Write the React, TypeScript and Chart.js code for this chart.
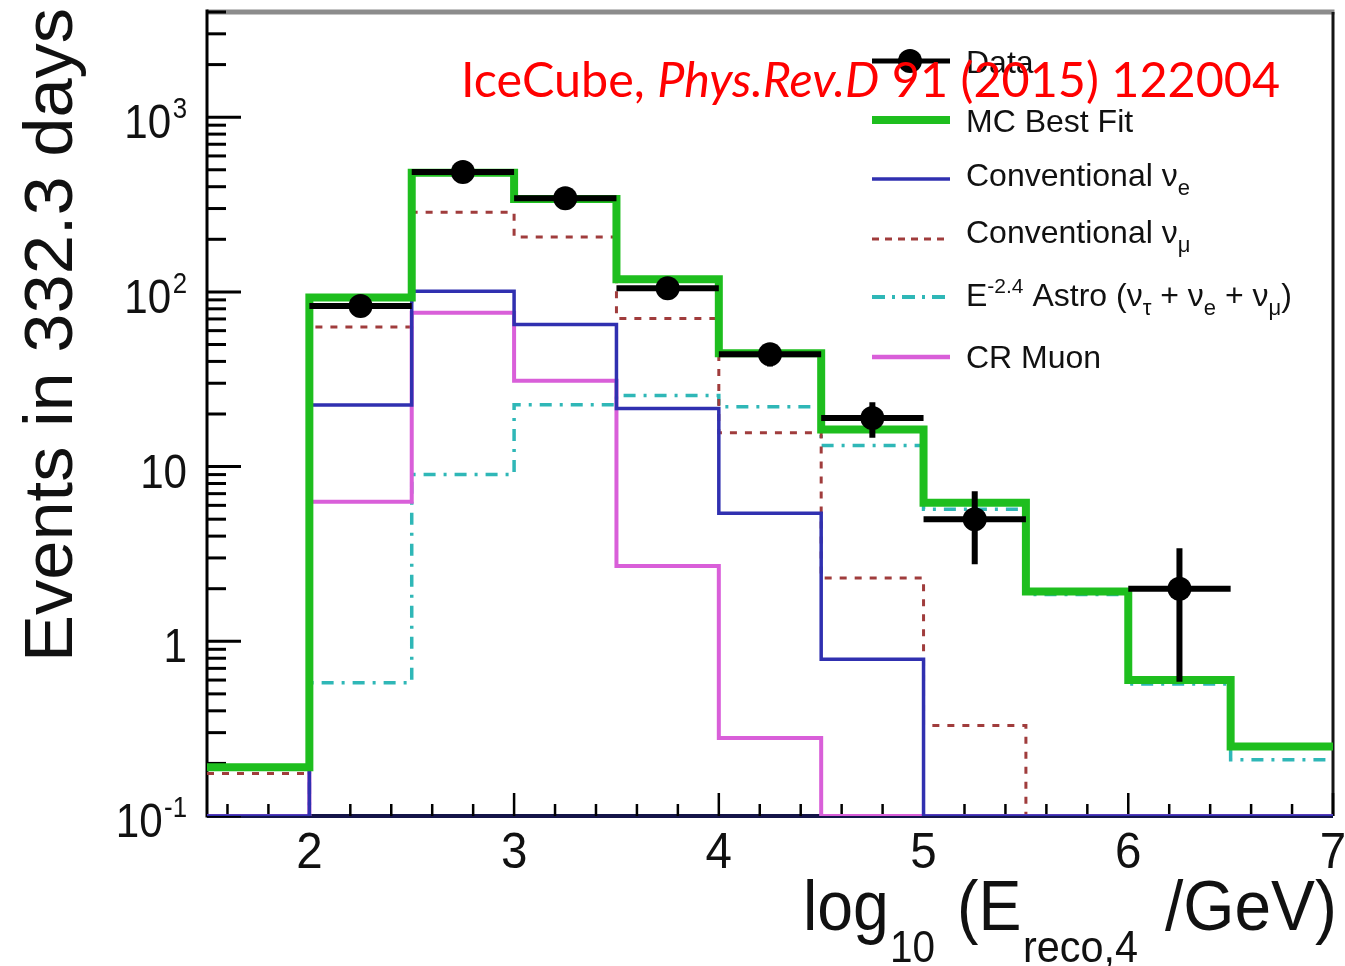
import React, { useEffect, useRef } from "react";
import { Chart, registerables } from "chart.js";

Chart.register(...registerables);

// Binning in log10(E_reco / GeV): 0.5-wide bins from 1.5 to 7
const binLowEdges = [1.5, 2, 2.5, 3, 3.5, 4, 4.5, 5, 5.5, 6, 6.5];
const binHighEdge = 7;
const BIN_WIDTH = 0.5;

// Observed events per bin (0 = empty bin, no marker)
const dataCounts = [0, 83, 485, 344, 105, 44, 19, 5, 0, 2, 0];

// Expected events per bin
const mcBestFit = [0.19, 93, 480, 340, 118, 44.5, 16.3, 6.2, 1.93, 0.6, 0.25];
const conventionalNuE = [0, 22.5, 101, 65, 21.5, 5.4, 0.79, 0, 0, 0, 0];
const conventionalNuMu = [0.175, 63, 286, 206, 70.5, 15.6, 2.3, 0.33, 0, 0, 0];
const astroE24 = [0, 0.58, 9.0, 22.6, 25.5, 22, 13.2, 5.7, 1.85, 0.57, 0.21];
const crMuon = [0, 6.3, 76, 31, 2.7, 0.28, 0, 0, 0, 0, 0];

// Axis ranges and tick labels
const X_MIN = 1.5;
const X_MAX = 7;
const Y_MIN = 0.1;
const Y_MAX = 4000;
const xTickValues = [2, 3, 4, 5, 6, 7];
const xTickLabels = ["2", "3", "4", "5", "6", "7"];
const yTickValues = [0.1, 1, 10, 100, 1000];
const yTickMantissas = ["10", "1", "10", "10", "10"];
const yTickExponents = ["-1", "", "", "2", "3"];

const yAxisTitle = "Events in 332.3 days";
const citation = ["IceCube, ", "Phys.Rev.D", " 91 (2015) 122004"];

type Run = { text: string; size: number; dy?: number; italic?: boolean };

// Legend rows: rich text with sub/superscripts
const legendRows: Run[][] = [
  [{ text: "Data", size: 32 }],
  [{ text: "MC Best Fit", size: 32 }],
  [{ text: "Conventional ν", size: 32 }, { text: "e", size: 22, dy: 9 }],
  [{ text: "Conventional ν", size: 32 }, { text: "μ", size: 22, dy: 9 }],
  [
    { text: "E", size: 32 },
    { text: "-2.4", size: 21, dy: -13 },
    { text: " Astro (ν", size: 32 },
    { text: "τ", size: 22, dy: 9 },
    { text: " + ν", size: 32 },
    { text: "e", size: 22, dy: 9 },
    { text: " + ν", size: 32 },
    { text: "μ", size: 22, dy: 9 },
    { text: ")", size: 32 },
  ],
  [{ text: "CR Muon", size: 32 }],
];

const FONT = '"Liberation Sans", Arial, Helvetica, sans-serif';
const TITLE_FONT = 'Lato, "Open Sans", sans-serif';

const COLORS = {
  data: "#000000",
  mc: "#1ebe1e",
  nuE: "#3030b0",
  nuMu: "#a03c3c",
  astro: "#2fb7b7",
  muon: "#d95fd9",
};

// Histogram outline: one point per low edge, plus the closing high edge.
// Empty bins sit on the axis floor, as a log-scale histogram is drawn.
const histogram = (values: number[]) => [
  ...binLowEdges.map((x, i) => ({ x, y: Math.max(values[i], Y_MIN) })),
  { x: binHighEdge, y: Math.max(values[values.length - 1], Y_MIN) },
];

const dataMarkers = binLowEdges.map((lo, i) => ({
  x: lo + BIN_WIDTH / 2,
  y: dataCounts[i] > 0 ? dataCounts[i] : null,
}));

// Bin-width horizontal bars and sqrt(N) vertical bars, separated by gaps
const dataErrorBars = dataCounts.flatMap((n, i) => {
  if (n <= 0) return [];
  const lo = binLowEdges[i];
  const c = lo + BIN_WIDTH / 2;
  const e = Math.sqrt(n);
  return [
    { x: lo, y: n },
    { x: lo + BIN_WIDTH, y: n },
    { x: c, y: null },
    { x: c, y: Math.max(n - e, Y_MIN) },
    { x: c, y: n + e },
    { x: c, y: null },
  ];
});

const stepStyle = (color: string, width: number, dash: number[], order: number) => ({
  borderColor: color,
  borderWidth: width,
  borderDash: dash,
  stepped: true,
  pointRadius: 0,
  fill: false,
  order,
});

function drawRuns(
  ctx: CanvasRenderingContext2D,
  runs: Run[],
  x: number,
  y: number,
  family: string,
  sx: number,
  color: string
) {
  ctx.save();
  ctx.translate(x, y);
  ctx.scale(sx, 1);
  ctx.fillStyle = color;
  ctx.textAlign = "left";
  ctx.textBaseline = "alphabetic";
  let cx = 0;
  for (const r of runs) {
    ctx.font = `${r.italic ? "italic " : ""}${r.size}px ${family}`;
    ctx.fillText(r.text, cx, r.dy || 0);
    cx += ctx.measureText(r.text).width;
  }
  ctx.restore();
  return cx * sx;
}

function runsWidth(ctx: CanvasRenderingContext2D, runs: Run[], family: string) {
  let w = 0;
  for (const r of runs) {
    ctx.font = `${r.italic ? "italic " : ""}${r.size}px ${family}`;
    w += ctx.measureText(r.text).width;
  }
  return w;
}

const axesPlugin = {
  id: "frameAndTicks",
  beforeDatasetsDraw(chart: any) {
    const { ctx, chartArea: a } = chart;
    const xs = chart.scales.x;
    const ys = chart.scales.y;
    const seg = (x1: number, y1: number, x2: number, y2: number) => {
      ctx.beginPath();
      ctx.moveTo(x1, y1);
      ctx.lineTo(x2, y2);
      ctx.stroke();
    };
    ctx.save();
    ctx.lineCap = "butt";
    ctx.strokeStyle = "#8c8c8c";
    ctx.lineWidth = 5;
    seg(a.left, a.top, a.right + 1.5, a.top);
    ctx.strokeStyle = "#151515";
    ctx.lineWidth = 3;
    seg(a.right, a.top, a.right, a.bottom);
    ctx.strokeStyle = "#000";
    seg(a.left, a.top - 2.5, a.left, a.bottom + 1.5);
    ctx.strokeStyle = "#141448";
    ctx.lineWidth = 4;
    seg(a.left, a.bottom, a.right, a.bottom);

    // x ticks: majors every 1, minors every 0.2, pointing inward
    ctx.strokeStyle = "#000";
    ctx.lineWidth = 2.5;
    for (let k = 16; k <= 70; k += 2) {
      const px = xs.getPixelForValue(k / 10);
      const len = k % 10 === 0 ? 23 : 12;
      seg(px, a.bottom, px, a.bottom - len);
    }
    // y ticks: decades long, 2..9 short
    ctx.lineWidth = 3;
    for (let d = -1; d <= 3; d++) {
      for (let m = 1; m <= 9; m++) {
        const v = m * Math.pow(10, d);
        if (v > ys.max) break;
        const py = ys.getPixelForValue(v);
        seg(a.left, py, a.left + (m === 1 ? 34 : 19), py);
      }
    }
    ctx.restore();
  },
};

const textPlugin = {
  id: "labelsLegendTitle",
  afterDraw(chart: any) {
    const { ctx, chartArea: a } = chart;
    const xs = chart.scales.x;
    const ys = chart.scales.y;
    const ink = "#111";

    // y tick labels (mantissa with optional superscript exponent)
    yTickValues.forEach((v, i) => {
      const py = ys.getPixelForValue(v);
      const runs: Run[] = [{ text: yTickMantissas[i], size: 49 }];
      if (yTickExponents[i]) {
        runs.push({ text: " ", size: 6 });
        runs.push({ text: yTickExponents[i], size: 30, dy: -20 });
      }
      const w = runsWidth(ctx, runs, FONT) * 0.86;
      drawRuns(ctx, runs, a.left - 20 - w, py + 21, FONT, 0.86, ink);
    });

    // x tick labels
    xTickValues.forEach((v, i) => {
      const px = xs.getPixelForValue(v);
      ctx.save();
      ctx.font = `50px ${FONT}`;
      const w = ctx.measureText(xTickLabels[i]).width * 0.95;
      ctx.restore();
      drawRuns(ctx, [{ text: xTickLabels[i], size: 50 }], px - w / 2, a.bottom + 52, FONT, 0.95, ink);
    });

    // y axis title, rotated
    ctx.save();
    ctx.font = `68px ${FONT}`;
    const tw = ctx.measureText(yAxisTitle).width;
    ctx.translate(72, 662);
    ctx.rotate(-Math.PI / 2);
    ctx.scale(654 / tw, 1);
    ctx.fillStyle = ink;
    ctx.textAlign = "left";
    ctx.textBaseline = "alphabetic";
    ctx.fillText(yAxisTitle, 0, 0);
    ctx.restore();

    // x axis title: log10 (E_reco,4 /GeV)
    drawRuns(ctx, [{ text: "log", size: 70 }], 803, 930, FONT, 0.92, ink);
    drawRuns(ctx, [{ text: "10", size: 44 }], 890, 962, FONT, 0.92, ink);
    drawRuns(ctx, [{ text: "(E", size: 70 }], 957, 930, FONT, 0.92, ink);
    drawRuns(ctx, [{ text: "reco,4", size: 44 }], 1023, 962, FONT, 0.94, ink);
    drawRuns(ctx, [{ text: "/GeV)", size: 70 }], 1165, 930, FONT, 0.94, ink);

    // legend
    const lineY = [61, 120, 179, 239, 297, 357];
    const textY = [73, 132, 186, 243, 306, 368];
    const styles = [
      { color: COLORS.data, width: 5, dash: [] as number[] },
      { color: COLORS.mc, width: 8, dash: [] },
      { color: COLORS.nuE, width: 3.5, dash: [] },
      { color: COLORS.nuMu, width: 3, dash: [7, 6] },
      { color: COLORS.astro, width: 4, dash: [13, 7, 3, 7] },
      { color: COLORS.muon, width: 4.5, dash: [] },
    ];
    legendRows.forEach((runs, i) => {
      const s = styles[i];
      ctx.save();
      ctx.strokeStyle = s.color;
      ctx.lineWidth = s.width;
      ctx.setLineDash(s.dash);
      ctx.beginPath();
      ctx.moveTo(872, lineY[i]);
      ctx.lineTo(950, lineY[i]);
      ctx.stroke();
      if (i === 0) {
        ctx.fillStyle = COLORS.data;
        ctx.beginPath();
        ctx.arc(910, lineY[i], 12, 0, Math.PI * 2);
        ctx.fill();
      }
      ctx.restore();
      drawRuns(ctx, runs, 966, textY[i], FONT, 1, ink);
    });

    // citation in red
    const cRuns: Run[] = [
      { text: citation[0], size: 48 },
      { text: citation[1], size: 48, italic: true },
      { text: citation[2], size: 48 },
    ];
    const cw = runsWidth(ctx, cRuns, TITLE_FONT);
    drawRuns(ctx, cRuns, 461, 97, TITLE_FONT, 819 / cw, "#ff0000");
  },
};

export default function App() {
  const ref = useRef<HTMLCanvasElement>(null);

  useEffect(() => {
    const canvas = ref.current;
    if (!canvas) return;
    const chart = new Chart(canvas, {
      type: "line",
      data: {
        datasets: [
          {
            label: "Data",
            data: dataMarkers,
            showLine: false,
            pointRadius: 12,
            pointHoverRadius: 12,
            pointBackgroundColor: COLORS.data,
            pointBorderWidth: 0,
            borderColor: COLORS.data,
            order: 0,
          },
          {
            label: "Data errors",
            data: dataErrorBars,
            borderColor: COLORS.data,
            borderWidth: 6,
            pointRadius: 0,
            spanGaps: false,
            fill: false,
            order: 1,
          },
          { label: "MC Best Fit", data: histogram(mcBestFit), ...stepStyle(COLORS.mc, 8, [], 2) },
          { label: "Conventional νe", data: histogram(conventionalNuE), ...stepStyle(COLORS.nuE, 3.5, [], 3) },
          { label: "CR Muon", data: histogram(crMuon), ...stepStyle(COLORS.muon, 4, [], 4) },
          { label: "Conventional νμ", data: histogram(conventionalNuMu), ...stepStyle(COLORS.nuMu, 3, [7, 8], 5) },
          { label: "E-2.4 Astro", data: histogram(astroE24), ...stepStyle(COLORS.astro, 3.5, [12, 8, 3, 8], 6) },
        ] as any,
      },
      options: {
        animation: false,
        responsive: false,
        devicePixelRatio: 1,
        layout: { padding: { left: 207, right: 9, top: 10, bottom: 150 } },
        scales: {
          x: { type: "linear", min: X_MIN, max: X_MAX, display: false },
          y: { type: "logarithmic", min: Y_MIN, max: Y_MAX, display: false },
        },
        plugins: {
          legend: { display: false },
          tooltip: { enabled: false },
        },
        events: [],
      } as any,
      plugins: [axesPlugin, textPlugin],
    });
    return () => chart.destroy();
  }, []);

  return (
    <div style={{ position: "absolute", left: 0, top: 0, width: 1345, height: 966, background: "#ffffff" }}>
      <canvas ref={ref} width={1345} height={966} style={{ display: "block", width: 1345, height: 966 }} />
    </div>
  );
}
